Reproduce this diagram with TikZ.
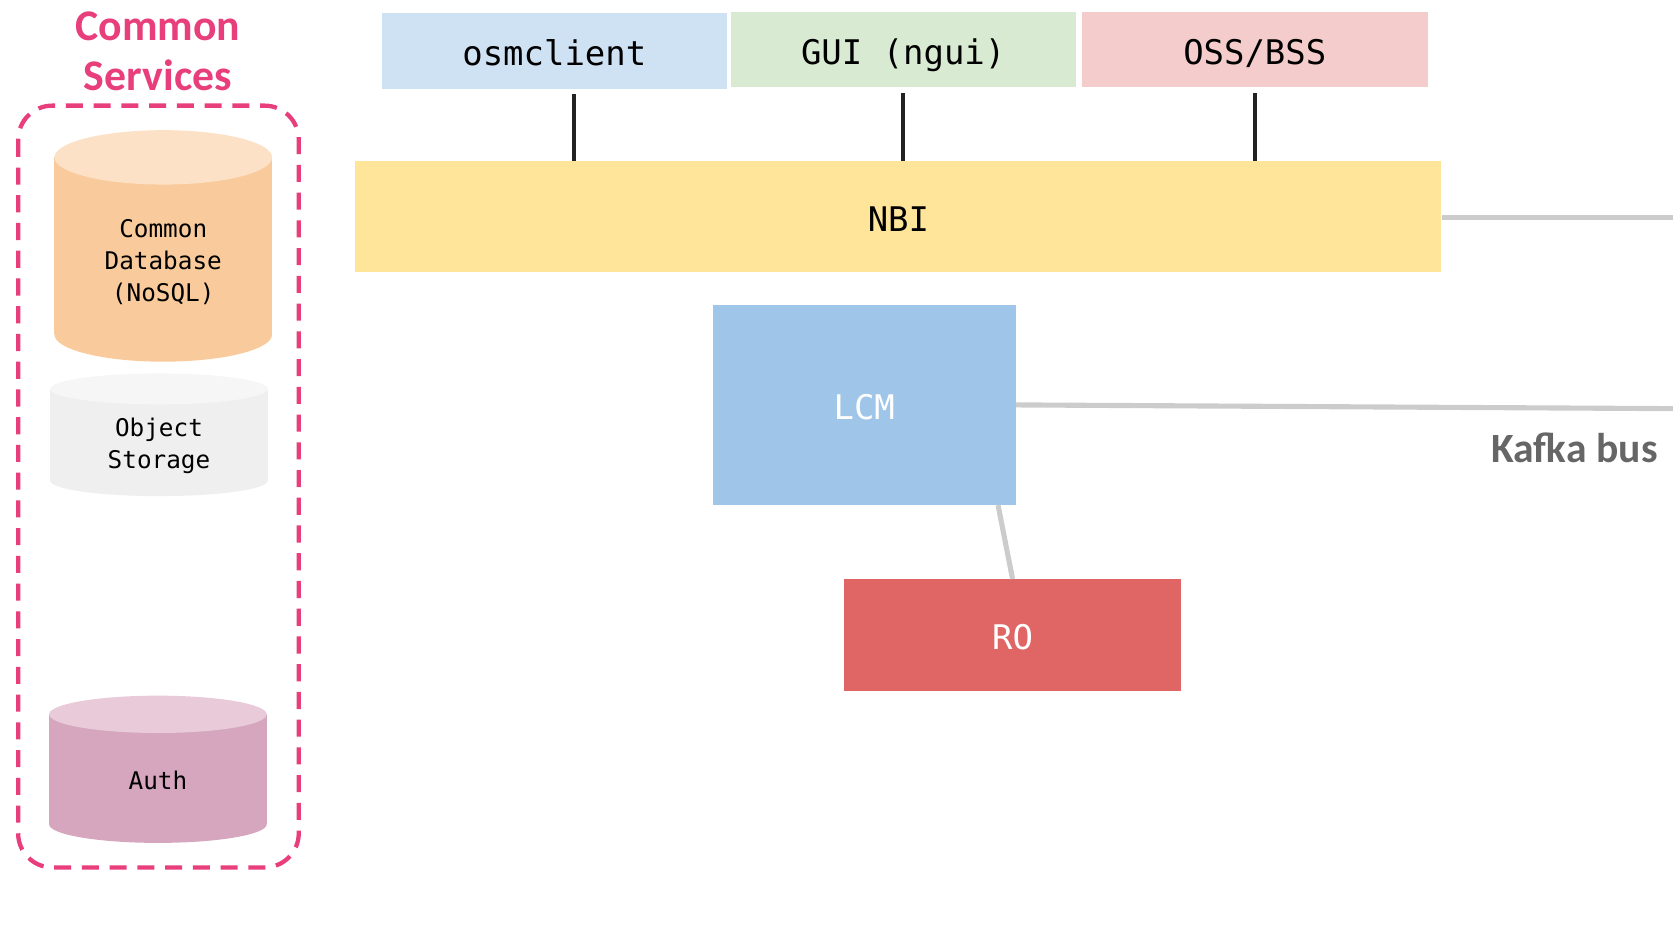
\documentclass[tikz,border=0pt]{standalone}
\usepackage{fontspec}
\setmainfont{DejaVu Sans}
\newfontfamily\monof{DejaVu Sans Mono}
\newfontfamily\calib{Carlito}
\usetikzlibrary{calc}
\definecolor{pinkc}{HTML}{E83E7B}
\definecolor{osmc}{HTML}{CFE2F3}
\definecolor{guic}{HTML}{D9EAD3}
\definecolor{ossc}{HTML}{F4CCCC}
\definecolor{nbic}{HTML}{FFE599}
\definecolor{lcmc}{HTML}{9FC5E8}
\definecolor{roc}{HTML}{E06666}
\definecolor{dbbody}{HTML}{F9CB9C}
\definecolor{dbtop}{HTML}{FCE1C6}
\definecolor{osbody}{HTML}{EFEFEF}
\definecolor{ostop}{HTML}{F6F6F6}
\definecolor{aubody}{HTML}{D5A6BD}
\definecolor{autop}{HTML}{E8CAD9}
\definecolor{busc}{HTML}{CCCCCC}
\definecolor{kafc}{HTML}{666666}
\definecolor{blkc}{HTML}{222222}
\newcommand\mycyl[7]{%
  \fill[#6] (#1-#4,#2+#5) rectangle (#1+#4,#3-#5);
  \fill[#6] (#1,#3-#5) ellipse [x radius=#4, y radius=#5];
  \fill[#7] (#1,#2+#5) ellipse [x radius=#4, y radius=#5];
}
\begin{document}
\begin{tikzpicture}[x=0.5pt,y=-0.5pt,
  box/.style={rectangle, inner sep=0pt, text height=13.6pt, text depth=0pt, font=\monof\fontsize{15.9}{19}\selectfont},
  dbtext/.style={align=center, inner sep=0pt, font=\monof\fontsize{11.4}{15}\selectfont},
  blk/.style={draw=blkc, line width=1.8pt},
  gry/.style={draw=busc, line width=2.4pt},
  dashbox/.style={draw=pinkc, line width=2pt, dash pattern=on 8pt off 5pt, rounded corners=16pt}]
\useasboundingbox (0,0) rectangle (1568,876);
% Common services
\node[align=center, text=pinkc, inner sep=0pt, font=\calib\bfseries\fontsize{20.5}{23.5}\selectfont] (title) at (148,48) {Common\\Services};
\draw[dashbox] (17,99) rectangle (280,813);
\mycyl{153}{122}{339}{102}{25.5}{dbbody}{dbtop}
\node[dbtext] (db) at (153,246) {Common\\Database\\(NoSQL)};
\mycyl{149}{350}{465}{102}{14.5}{osbody}{ostop}
\node[dbtext] (objs) at (149,418) {Object\\Storage};
\mycyl{148}{652}{790}{102}{17.5}{aubody}{autop}
\node[dbtext] (auth) at (148,731) {Auth};
% top clients
\node[box, fill=osmc, minimum width=161.5pt, minimum height=35.5pt] (osm) at (519.5,47.5) {osmclient};
\node[box, fill=guic, minimum width=161.5pt, minimum height=35.5pt] (gui) at (846.5,46.5) {GUI (ngui)};
\node[box, fill=ossc, minimum width=162pt, minimum height=35.5pt] (oss) at (1176,46.5) {OSS/BSS};
\node[box, fill=nbic, minimum width=509pt, minimum height=52pt] (nbi) at (842,203) {NBI};
\node[box, fill=lcmc, text=white, minimum width=142pt, minimum height=93.5pt] (lcm) at (810,379.5) {LCM};
\node[box, fill=roc, text=white, minimum width=158pt, minimum height=52.5pt] (ro) at (949,595.5) {RO};
% connectors
\draw[blk] ([xshift=9.25pt,yshift=-2.5pt]osm.south) -- ([xshift=9.25pt]osm.south |- nbi.north);
\draw[blk] ([yshift=-2.5pt]gui.south) -- (gui.south |- nbi.north);
\draw[blk] ([yshift=-2.5pt]oss.south) -- (oss.south |- nbi.north);
\coordinate (busA) at (1568,204);
\coordinate (busB) at (1568,383);
\draw[gry] (nbi.east |- busA) -- (busA);
\draw[gry] (lcm.east) -- (busB);
\draw[gry] ([xshift=-8.5pt]lcm.south east) -- (ro.north);
\node[anchor=east, text=kafc, inner sep=0pt, font=\calib\bfseries\fontsize{19.5}{23}\selectfont] (kafka) at (1554,420) {Kafka bus};
\end{tikzpicture}
\end{document}
